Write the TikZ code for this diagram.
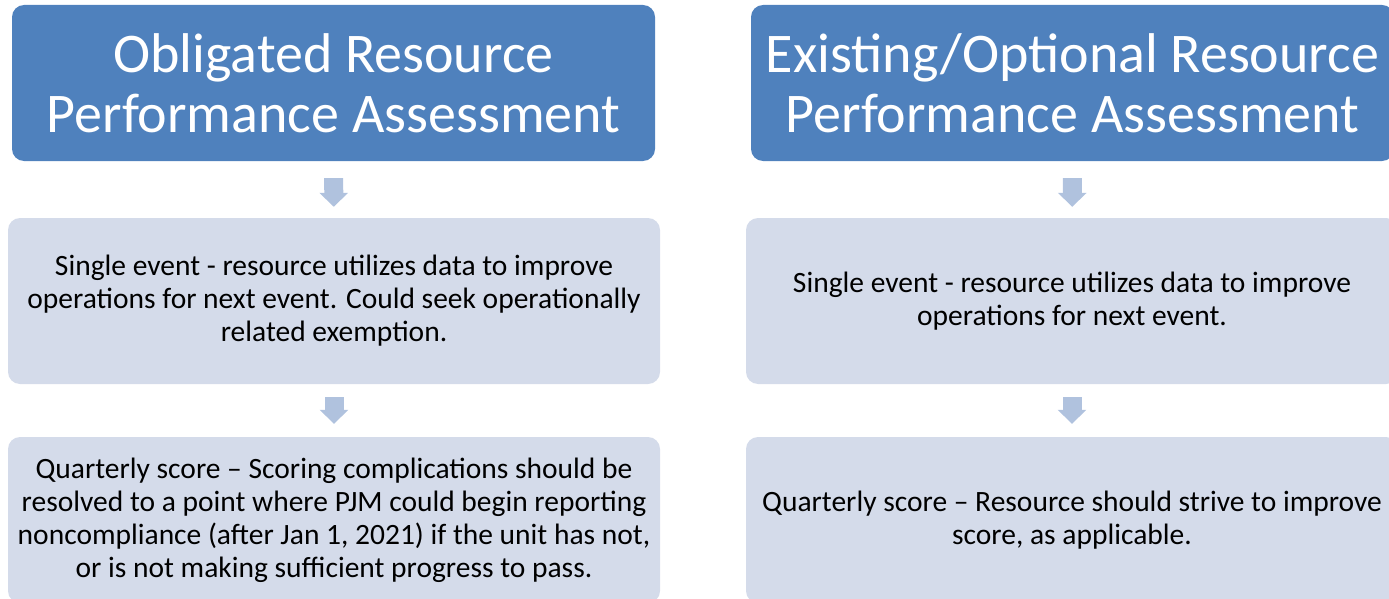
\documentclass[tikz,border=0pt]{standalone}
\usepackage{fontspec}
\setmainfont{Carlito}
\usetikzlibrary{arrows.meta}
\definecolor{hdrblue}{HTML}{4F81BD}
\definecolor{boxblue}{HTML}{D4DBEA}
\definecolor{arrblue}{HTML}{B0C2DE}
\begin{document}
\begin{tikzpicture}[x=1pt,y=-1pt,
  head/.style={fill=hdrblue,text=white,rounded corners=12pt,minimum width=643pt,minimum height=156pt,inner sep=0pt,align=center,font=\fontsize{56}{60}\selectfont},
  body/.style={fill=boxblue,rounded corners=12pt,minimum width=652pt,minimum height=166pt,inner sep=0pt,align=center,font=\fontsize{29.5}{33}\selectfont},
  flow/.style={draw=arrblue,line width=19pt,-{Triangle[width=28pt,length=14pt,fill=arrblue]}}]
\useasboundingbox (0,0) rectangle (1389,599);
\clip (0,0) rectangle (1389,599);
\node[head] (H1) at (333.5,83) {Obligated Resource\\Performance Assessment};
\node[head] (H2) at (1072.5,83) {Existing/Optional Resource\\Performance Assessment};
\node[body] (S1) at (334,301) {Single event - resource utilizes data to improve\\operations for next event. Could seek operationally\\related exemption.};
\node[body] (S2) at (1072,301) {Single event - resource utilizes data to improve\\operations for next event.};
\node[body] (Q1) at (334,520) {Quarterly score \textendash{} Scoring complications should be\\resolved to a point where PJM could begin reporting\\noncompliance (after Jan 1, 2021) if the unit has not,\\or is not making sufficient progress to pass.};
\node[body] (Q2) at (1072,520) {Quarterly score \textendash{} Resource should strive to improve\\score, as applicable.};
\draw[flow,shorten <=17pt,shorten >=11pt] (H1) -- (S1);
\draw[flow,shorten <=17pt,shorten >=11pt] (H2) -- (S2);
\draw[flow,shorten <=13pt,shorten >=13pt] (S1) -- (Q1);
\draw[flow,shorten <=13pt,shorten >=13pt] (S2) -- (Q2);
\end{tikzpicture}
\end{document}
